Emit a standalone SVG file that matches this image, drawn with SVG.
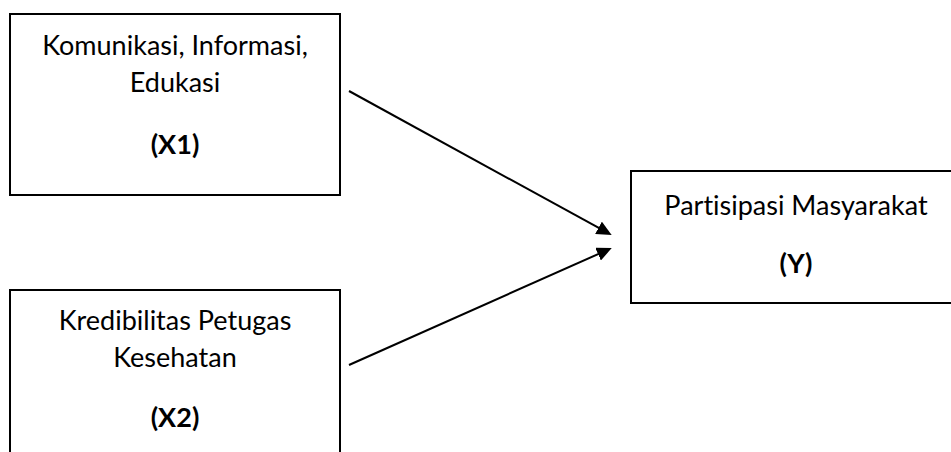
<svg xmlns="http://www.w3.org/2000/svg" width="951" height="452" viewBox="0 0 951 452">
<style>
.box{fill:#fff;stroke:#000;stroke-width:2}
.t{font-family:Lato,"Open Sans","Liberation Sans",sans-serif;font-size:27px;fill:#000;text-anchor:middle;font-variant-ligatures:none}
.b{font-weight:bold}
.c{stroke:#000;stroke-width:2;fill:none}
</style>
<defs>
<marker id="ah" markerUnits="userSpaceOnUse" markerWidth="16" markerHeight="14" refX="5" refY="7" orient="auto">
<path d="M0,0 L15,7 L0,14 z" fill="#000"/>
</marker>
</defs>
<rect width="951" height="452" fill="#fff"/>
<g id="x1">
<rect class="box" x="10" y="14" width="330" height="181"/>
<text class="t" x="175" y="55">Komunikasi, Informasi,</text>
<text class="t" x="175" y="92">Edukasi</text>
<text class="t b" x="175" y="154">(X1)</text>
</g>
<g id="x2">
<rect class="box" x="10" y="290" width="330" height="181"/>
<text class="t" x="175" y="330">Kredibilitas Petugas</text>
<text class="t" x="175" y="367">Kesehatan</text>
<text class="t b" x="175" y="427">(X2)</text>
</g>
<g id="y">
<rect class="box" x="631" y="171" width="330" height="132"/>
<text class="t" x="796" y="215">Partisipasi Masyarakat</text>
<text class="t b" x="796" y="273">(Y)</text>
</g>
<g id="connectors">
<line class="c" x1="349" y1="91" x2="602.9" y2="230.2" marker-end="url(#ah)"/>
<line class="c" x1="349" y1="365" x2="602.6" y2="252.1" marker-end="url(#ah)"/>
</g>
</svg>
